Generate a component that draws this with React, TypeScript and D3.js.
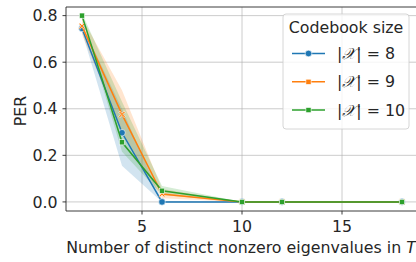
import React from 'react';
import * as d3 from 'd3';

const xs = [2, 4, 6, 10, 12, 18];

const labels = ['8', '9', '10'];
const colors = ['#1f77b4', '#ff7f0e', '#2ca02c'];
const markers = ['circle', 'x', 'square'];

// mean PER per codebook size
const per8 = [0.745, 0.297, 0.0, 0.0, 0.0, 0.0];
const per9 = [0.755, 0.376, 0.034, 0.0, 0.0, 0.0];
const per10 = [0.8, 0.256, 0.048, 0.0, 0.0, 0.0];

// confidence band (lower / upper)
const lo8 = [0.73, 0.155, 0.0, 0.0, 0.0, 0.0];
const hi8 = [0.76, 0.40, 0.004, 0.0, 0.0, 0.0];
const lo9 = [0.72, 0.30, 0.016, 0.0, 0.0, 0.0];
const hi9 = [0.79, 0.48, 0.055, 0.0, 0.0, 0.0];
const lo10 = [0.79, 0.215, 0.03, 0.0, 0.0, 0.0];
const hi10 = [0.81, 0.43, 0.068, 0.0, 0.0, 0.0];

const xTicks = [5, 10, 15];
const yTicks = [0, 0.2, 0.4, 0.6, 0.8];

const series = [
  { mean: per8, lo: lo8, hi: hi8 },
  { mean: per9, lo: lo9, hi: hi9 },
  { mean: per10, lo: lo10, hi: hi10 },
];

const W = 416;
const H = 262;
const margin = { top: 7, right: -2, bottom: 51, left: 66 };
const font = 'DejaVu Sans, sans-serif';
const fs = 15.8;

function Marker({ kind, x, y, color }: { kind: string; x: number; y: number; color: string }) {
  if (kind === 'circle') {
    return <circle cx={x} cy={y} r={3.3} fill={color} stroke="white" strokeWidth={0.6} />;
  }
  if (kind === 'square') {
    return <rect x={x - 2.6} y={y - 2.6} width={5.2} height={5.2} fill={color} stroke="white" strokeWidth={0.6} />;
  }
  const s = 3.2;
  const t = 1.1;
  const p = [
    [-s, -s + t], [-s + t, -s], [0, -t], [s - t, -s], [s, -s + t], [t, 0],
    [s, s - t], [s - t, s], [0, t], [-s + t, s], [-s, s - t], [-t, 0],
  ].map(([a, b]) => `${x + a},${y + b}`).join(' ');
  return <polygon points={p} fill={color} stroke="white" strokeWidth={0.6} />;
}

export default function App() {
  const x = d3.scaleLinear().domain([1.2, 18.8]).range([margin.left, W - margin.right]);
  const y = d3.scaleLinear().domain([-0.039, 0.837]).range([H - margin.bottom, margin.top]);

  const line = d3.line<number>().x((_, i) => x(xs[i])).y(d => y(d));
  const area = (lo: number[], hi: number[]) =>
    d3.area<number>().x((_, i) => x(xs[i])).y0((_, i) => y(lo[i])).y1(d => y(d))(hi) || '';

  const x0 = margin.left;
  const x1 = W - margin.right;
  const y0 = H - margin.bottom;
  const y1 = margin.top;

  const legX = 283;
  const legY = 14;

  return (
    <svg width={W} height={H} style={{ position: 'absolute', left: 0, top: 0 }} fontFamily={font}>
      <rect width={W} height={H} fill="white" />
      <g>
        {xTicks.map(t => (
          <line key={'gx' + t} x1={x(t)} x2={x(t)} y1={y0} y2={y1} stroke="#b0b0b0" strokeWidth={0.8} opacity={0.8} />
        ))}
        {yTicks.map(t => (
          <line key={'gy' + t} x1={x0} x2={x1} y1={y(t)} y2={y(t)} stroke="#b0b0b0" strokeWidth={0.8} opacity={0.8} />
        ))}
      </g>
      {series.map((s, k) => (
        <path key={'a' + k} d={area(s.lo, s.hi)} fill={colors[k]} opacity={0.2} />
      ))}
      {series.map((s, k) => (
        <g key={'l' + k}>
          <path d={line(s.mean) || ''} fill="none" stroke={colors[k]} strokeWidth={1.5} />
          {s.mean.map((v, i) => (
            <Marker key={i} kind={markers[k]} x={x(xs[i])} y={y(v)} color={colors[k]} />
          ))}
        </g>
      ))}
      <g stroke="#262626" strokeWidth={0.9} fill="none">
        <line x1={x0} x2={x0} y1={y0} y2={y1} />
        <line x1={x0} x2={x1} y1={y0} y2={y0} />
        <line x1={x0} x2={x1} y1={y1} y2={y1} />
        <line x1={x1} x2={x1} y1={y0} y2={y1} />
      </g>
      {yTicks.map(t => (
        <g key={'ty' + t}>
          <line x1={x0 - 3.5} x2={x0} y1={y(t)} y2={y(t)} stroke="#262626" strokeWidth={0.9} />
          <text x={x0 - 8.5} y={y(t)} dy="0.36em" textAnchor="end" fontSize={fs} fill="#262626">{t.toFixed(1)}</text>
        </g>
      ))}
      {xTicks.map(t => (
        <g key={'tx' + t}>
          <line x1={x(t)} x2={x(t)} y1={y0} y2={y0 + 3.5} stroke="#262626" strokeWidth={0.9} />
          <text x={x(t)} y={y0 + 20.5} textAnchor="middle" fontSize={fs} fill="#262626">{t}</text>
        </g>
      ))}
      <text x={241} y={252.5} textAnchor="middle" fontSize={fs} fill="#262626">
        Number of distinct nonzero eigenvalues in <tspan fontStyle="italic">T</tspan>
      </text>
      <text transform="translate(26,111) rotate(-90)" textAnchor="middle" fontSize={fs} fill="#262626">PER</text>

      <g>
        <rect x={legX} y={legY} width={126} height={115} rx={3} fill="white" fillOpacity={0.8} stroke="#cccccc" strokeWidth={0.8} />
        <text x={legX + 63} y={legY + 19} textAnchor="middle" fontSize={fs} fill="#262626">Codebook size</text>
        {labels.map((lab, k) => {
          const ly = legY + 39.5 + k * 28.3;
          return (
            <g key={'lg' + k}>
              <line x1={legX + 9} x2={legX + 42} y1={ly} y2={ly} stroke={colors[k]} strokeWidth={1.5} />
              <Marker kind={k === 1 ? 'square' : markers[k]} x={legX + 25.5} y={ly} color={colors[k]} />
              <text x={legX + 54} y={ly} dy="0.36em" fontSize={fs} fill="#262626">
                |<tspan fontFamily="DejaVu Serif, serif" fontStyle="italic">𝒳</tspan>| = {lab}
              </text>
            </g>
          );
        })}
      </g>
    </svg>
  );
}
